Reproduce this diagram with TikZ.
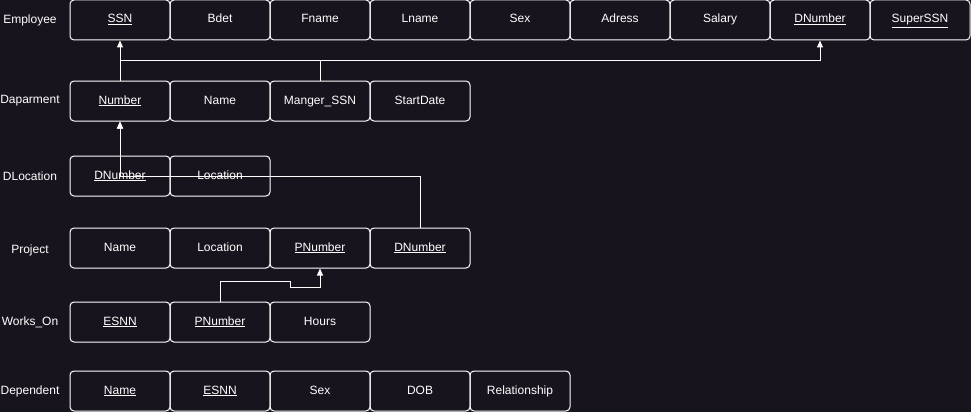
\documentclass[tikz,border=0pt]{standalone}
\usepackage{fontspec}
\setmainfont{Liberation Sans}
\usetikzlibrary{arrows.meta}
\definecolor{bgdark}{HTML}{18141D}
\newcommand{\keyatt}[1]{\underline{#1}}

\tikzset{
	cell/.style={draw=white, line width=1pt, rounded corners=4pt,
		minimum width=100pt, minimum height=40pt, inner sep=0pt,
		text height=8.6pt, text depth=2.6pt,
		text=white, font=\fontsize{12}{14}\selectfont},
	tblname/.style={text=white, font=\fontsize{12}{14}\selectfont},
	fk/.style={draw=white, line width=1pt, -{Triangle[length=7pt,width=6pt]}}
}

\begin{document}
\begin{tikzpicture}[x=1pt, y=-1pt]
	
	\fill[bgdark] (0,0) rectangle (971,412);
	\useasboundingbox (0,0) rectangle (971,412);
	
	% table names
	\node[tblname] (tEmp) at (30,20) {Employee};
	\node[tblname] (tDep) at (30,101) {Daparment};
	\node[tblname] (tDloc) at (30,176) {DLocation};
	\node[tblname] (tProj) at (30,250) {Project};
	\node[tblname] (tWo) at (30,322) {Works\_On};
	\node[tblname] (tDpd) at (30,391) {Dependent};
	
	% attributes
	\foreach \t [count=\i] in {\keyatt{SSN},Bdet,Fname,Lname,Sex,Adress,Salary,\keyatt{DNumber},\keyatt{SuperSSN}}
		\node[cell] (emp\i) at (20+100*\i,20) {\t};
	\foreach \t [count=\i] in {\keyatt{Number},Name,Manger\_SSN,StartDate}
		\node[cell] (dep\i) at (20+100*\i,101) {\t};
	\foreach \t [count=\i] in {\keyatt{DNumber},Location}
		\node[cell] (dloc\i) at (20+100*\i,176) {\t};
	\foreach \t [count=\i] in {Name,Location,\keyatt{PNumber},\keyatt{DNumber}}
		\node[cell] (proj\i) at (20+100*\i,248) {\t};
	\foreach \t [count=\i] in {\keyatt{ESNN},\keyatt{PNumber},Hours}
		\node[cell] (wo\i) at (20+100*\i,322) {\t};
	\foreach \t [count=\i] in {\keyatt{Name},\keyatt{ESNN},Sex,DOB,Relationship}
		\node[cell] (dpd\i) at (20+100*\i,391) {\t};
	
	% foreign keys
	\draw[fk] (dep1.north) -- ++(0,-20) -| (emp8.south);
	\draw[fk] (dep3.north) -- ++(0,-20) -| (emp1.south);
	\draw[fk] (dloc1.center) -- (dep1.south);
	\draw[fk] (proj4.north) |- (dloc1.center) -- (dep1.south);
	\draw[fk] (wo2.north) -- ++(0,-20) -- ++(70,0) -- ++(0,6) -| (proj3.south);
	
\end{tikzpicture}
\end{document}
